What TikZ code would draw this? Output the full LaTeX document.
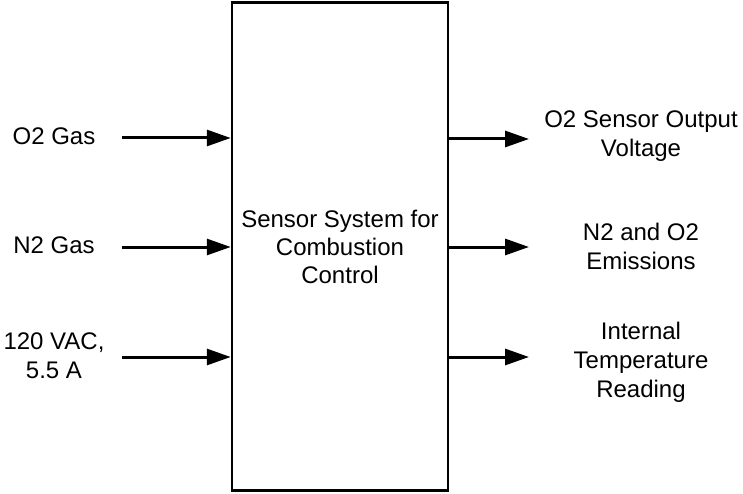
\documentclass[tikz,border=0pt]{standalone}
\usepackage{fontspec}
\setmainfont{Liberation Sans}
\usetikzlibrary{arrows.meta,positioning}
\tikzset{
  sysbox/.style={draw=black,line width=2.5pt,fill=white,minimum width=216pt,minimum height=488pt,align=center,font=\fontsize{24}{28}\selectfont},
  lbl/.style={align=center,inner sep=0pt,font=\fontsize{24}{29}\selectfont},
  flow/.style={-{Triangle[length=24pt,width=16pt]},line width=3pt,draw=black}
}

\begin{document}
\begin{tikzpicture}[x=1pt,y=1pt]
    \useasboundingbox (0,0) rectangle (743,493);
    \node[sysbox] (sys) at (340,246.5) {Sensor System for\\Combustion\\Control};

    % inputs on the left
    \node[lbl] (o2gas) at (54,357) {O2 Gas};
    \node[lbl] (n2gas) at (54,248) {N2 Gas};
    \node[lbl] (power) at (54,137) {120 VAC,\\5.5 A};
    \coordinate (o2gasa) at (122,355);
    \coordinate (n2gasa) at (122,246);
    \coordinate (powera) at (122,136);
    \draw[flow] (o2gasa) -- (o2gasa -| sys.west);
    \draw[flow] (n2gasa) -- (n2gasa -| sys.west);
    \draw[flow] (powera) -- (powera -| sys.west);

    % outputs on the right
    \node[lbl] (volt) at (641,357) {O2 Sensor Output\\Voltage};
    \node[lbl] (emis) at (641,246.5) {N2 and O2\\Emissions};
    \node[lbl] (temp) at (641,131) {Internal\\Temperature\\Reading};
    \coordinate (volta) at (529,354);
    \coordinate (emisa) at (529,246);
    \coordinate (tempa) at (529,136);
    \draw[flow] (volta -| sys.east) -- (volta);
    \draw[flow] (emisa -| sys.east) -- (emisa);
    \draw[flow] (tempa -| sys.east) -- (tempa);
\end{tikzpicture}
\end{document}
